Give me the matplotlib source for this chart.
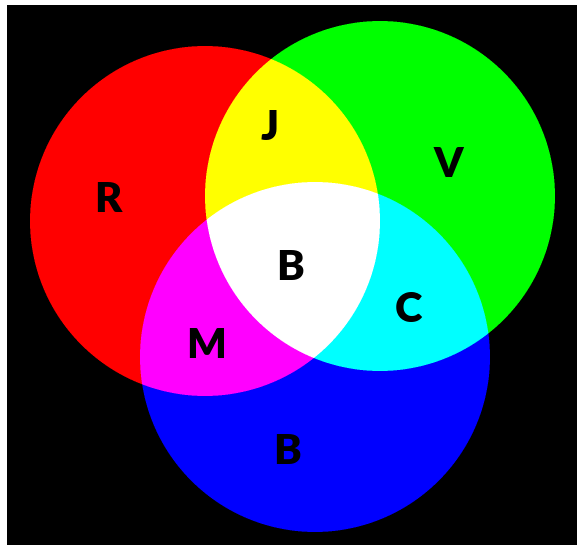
import numpy as np
import matplotlib
matplotlib.use("Agg")
import matplotlib.pyplot as plt

# additive colour circles (pixel coordinates of the picture)
circle_names = ["Rouge", "Vert", "Bleu"]
centers_x = [205, 380, 315]
centers_y = [221, 196, 357]
radii = [175, 175, 175]
channels = [0, 1, 2]  # R, G, B

# letters and where they sit
labels = ["R", "J", "V", "B", "C", "M", "B"]
label_x = [108, 270, 448, 290, 408, 206, 287]
label_y = [200, 128, 165, 268, 310, 346, 452]

W, H = 577, 545
x0, y0 = 7, 5  # white margin left / top

fig = plt.figure(figsize=(W / 100, H / 100), dpi=100, facecolor="white")
ax = fig.add_axes([x0 / W, 0, (W - x0) / W, (H - y0) / H])
ax.set_facecolor("black")

# build the additive image, 3x3 supersampled for smooth edges
ss = 3
xs = x0 + (np.arange((W - x0) * ss) + 0.5) / ss
ys = y0 + (np.arange((H - y0) * ss) + 0.5) / ss
X, Y = np.meshgrid(xs, ys)
img = np.zeros((len(ys), len(xs), 3))
for cx, cy, r, ch in zip(centers_x, centers_y, radii, channels):
    inside = (X - cx) ** 2 + (Y - cy) ** 2 <= r ** 2
    img[..., ch] += inside
img = img.reshape(H - y0, ss, W - x0, ss, 3).mean(axis=(1, 3))

ax.imshow(img, extent=(x0, W, H, y0), interpolation="bilinear")
ax.set_xlim(x0, W)
ax.set_ylim(H, y0)
ax.axis("off")

for lab, lx, ly in zip(labels, label_x, label_y):
    ax.text(lx, ly, lab, ha="center", va="center", fontsize=30,
            fontweight="heavy", family=["Lato", "DejaVu Sans"], color="black")

fig.savefig("out.png", dpi=100, facecolor="white")
